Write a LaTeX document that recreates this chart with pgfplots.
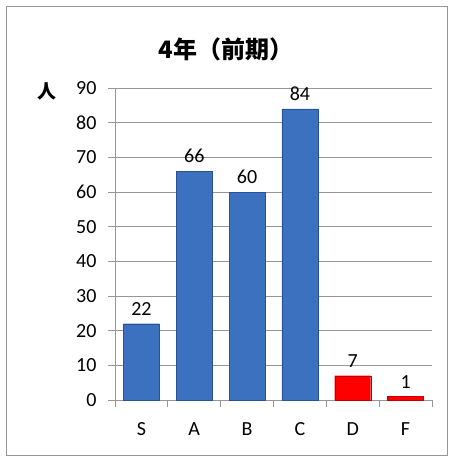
\documentclass[border=0pt]{standalone}
\usepackage{pgfplots}
\pgfplotsset{compat=1.18}
\usepackage{fontspec}
\setmainfont{Carlito}
\newfontfamily\cjk{Noto Sans CJK JP}
\definecolor{barblue}{RGB}{60,113,192}
\definecolor{barbluedk}{RGB}{40,82,150}
\definecolor{gridgray}{RGB}{150,150,150}
\begin{document}
\begin{tikzpicture}
\useasboundingbox (-115pt,-56pt) rectangle (333pt,400pt);
\begin{axis}[
    scale only axis,
    width=317pt, height=312pt,
    ymin=0, ymax=90,
    ytick={0,10,...,90},
    xmin=-0.5, xmax=5.5,
    xtick={0,1,2,3,4,5},
    xticklabels={S,A,B,C,D,F},
    minor xtick={-0.5,0.5,...,5.5},
    x tick style={draw=none},
    minor x tick style={draw=gridgray, line width=0.8pt},
    xtick align=outside,
    minor tick length=7pt,
    ytick align=outside,
    major tick length=7pt,
    y tick style={draw=gridgray, line width=0.8pt},
    ymajorgrids,
    grid style={gridgray, line width=0.8pt},
    axis x line*=bottom,
    axis y line*=left,
    axis line style={gridgray, line width=0.8pt},
    /pgf/number format/assume math mode=true,
    tick label style={font=\fontsize{20}{20}\selectfont},
    yticklabel style={xshift=-8pt},
    xticklabel style={yshift=-12pt},
    ybar, bar width=36pt, bar shift=0pt,
    nodes near coords,
    every node near coord/.append style={font=\fontsize{20}{20}\selectfont, yshift=5pt},
    clip=false,
]
\addplot[draw=barbluedk, fill=barblue] coordinates {(0,22) (1,66) (2,60) (3,84)};
\addplot[draw=red!75!black, fill=red] coordinates {(4,7) (5,1)};
\end{axis}
\draw[gridgray, line width=0.8pt] (-109pt,-55pt) rectangle (332pt,394pt);
\node[font=\cjk\bfseries\fontsize{24}{24}\selectfont] at (111pt,351pt) {4年（前期）};
\node[font=\cjk\bfseries\fontsize{19}{19}\selectfont] at (-68pt,309pt) {人};
\end{tikzpicture}
\end{document}
